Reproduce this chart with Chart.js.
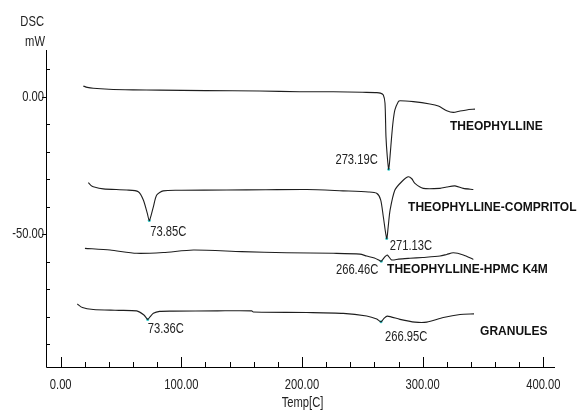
<!DOCTYPE html>
<html>
<head>
    <title>DSC</title>
    <script src="https://cdn.jsdelivr.net/npm/chart.js"></script>
    <style>
        body { margin: 0; background: #fff; }
    </style>
</head>
<body>
    <canvas id="dscChart" width="585" height="411"></canvas>

    <script>
        // dados (Temp [C] / DSC [mW])
        const theoTemp = [18.7, 22, 27, 40, 60, 82, 120, 165, 198, 226, 250, 262, 265, 267.4, 268.8, 269.6, 270.7, 271.9, 273, 274.3, 275.5, 277, 279.8, 281.3, 292.3, 306, 313, 320, 325.4, 331, 336.5, 343.4];
        const theoDsc = [3.9, 3.4, 3.05, 2.7, 2.5, 2.4, 2.2, 2.07, 1.8, 1.8, 1.6, 1.5, 1.3, 0.6, -2.4, -14.5, -21.8, -26.4, -21.5, -14.5, -9, -4.8, -1.8, -1.45, -1.8, -2.65, -3.4, -5.1, -5.7, -5.2, -4.8, -4.5];

        const compTemp = [22.9, 25, 27, 35.3, 54.7, 64.3, 68.5, 71.8, 73.4, 75, 76.8, 79.6, 85, 100, 137.6, 170, 204, 234, 255, 261.9, 265.2, 267.4, 270.2, 271.5, 273, 277, 282.6, 288, 291, 293.6, 300.5, 314.4, 320, 326.8, 333.7, 342];
        const compDsc = [-31.25, -32.2, -32.7, -33.5, -33.9, -34.5, -37.5, -42.4, -45, -43, -40, -35.7, -34.2, -34, -33.9, -33.8, -33.7, -34.2, -34.6, -35.1, -37.5, -43.6, -51.5, -47, -41.2, -33.9, -30.9, -29.1, -29.8, -31.5, -33.3, -33.3, -32.8, -32.4, -33.3, -33.7];

        const hpmcTemp = [20.1, 40.9, 63, 85, 110, 150, 187.3, 226, 248, 253.6, 260, 264.6, 265.7, 268.8, 270.7, 274.3, 280, 289.5, 300, 314.4, 320, 325.4, 333.7, 342];
        const hpmcDsc = [-55.1, -55.7, -56.9, -56.6, -55.7, -56.3, -56.7, -56.9, -57.2, -57.9, -58.6, -59.6, -59.8, -58.1, -57.5, -59.3, -59.0, -58.7, -58.4, -57.9, -57.3, -56.7, -57.5, -59.1];

        const granTemp = [13.8, 18, 27, 45, 63, 69, 72.1, 74, 76.8, 82, 93.3, 130, 158.3, 159.6, 203.9, 234.2, 253.6, 262, 265.5, 268, 270.7, 281.2, 293.6, 303.4, 317.2, 331, 342.6];
        const granDsc = [-75.3, -76.6, -77.3, -77.6, -77.8, -79.3, -80.9, -80.0, -78.7, -78.0, -77.9, -77.8, -77.8, -78.2, -78.4, -78.7, -79.7, -80.8, -81.8, -80.5, -79.7, -80.9, -81.9, -81.9, -80.2, -79.1, -78.9];

        // picos marcados
        const peakTemp = [271.9, 73.4, 270.2, 265.7, 72.1, 265.5];
        const peakDsc = [-26.4, -45, -51.5, -59.8, -80.9, -81.8];
        const peakText = ["273.19C", "73.85C", "271.13C", "266.46C", "73.36C", "266.95C"];

        // nomes das amostras
        const sampleNames = ["THEOPHYLLINE", "THEOPHYLLINE-COMPRITOL", "THEOPHYLLINE-HPMC K4M", "GRANULES"];

        // ticks dos eixos
        const xMajor = [0, 100, 200, 300, 400];
        const yMajor = [0, -50];

        // posição dos textos (deslocamento em px a partir do pico / coordenadas de dados)
        const peakOffsets = [[-11, -10, "right"], [1, 11, "left"], [3, 7, "left"], [-3, 9, "right"], [0, 9, "left"], [4, 15, "left"]];
        const nameAnchors = [[322.7, -10.9], [287.9, -40.4], [270.5, -63.0], [347.6, -85.5]];

        const toPoints = (xs, ys) => xs.map((v, i) => ({ x: v, y: ys[i] }));

        // texto estreito (tipo Arial Narrow): Liberation Sans comprimida na horizontal
        function narrowText(ctx, t, px, py, align) {
            const sx = 0.8, sy = 1.08;
            ctx.save();
            ctx.font = "14px 'Liberation Sans', Arial, sans-serif";
            ctx.textAlign = align;
            ctx.textBaseline = "middle";
            ctx.translate(px, py);
            ctx.scale(sx, sy);
            ctx.fillText(t, 0, 0);
            ctx.restore();
        }

        const dscAxes = {
            id: "dscAxes",
            afterDraw(chart) {
                const { ctx, chartArea: a, scales: { x, y } } = chart;
                ctx.save();
                ctx.strokeStyle = "#000";
                ctx.lineWidth = 1;

                // linhas dos eixos
                ctx.beginPath();
                ctx.moveTo(a.left + 0.5, a.top);
                ctx.lineTo(a.left + 0.5, a.bottom + 0.5);
                ctx.lineTo(a.right, a.bottom + 0.5);
                ctx.stroke();

                // ticks do eixo x (a cada 20)
                ctx.beginPath();
                for (let v = -20; v <= 420; v += 20) {
                    const px = Math.round(x.getPixelForValue(v)) + 0.5;
                    if (px < a.left + 2 || px > a.right) continue;
                    const len = xMajor.includes(v) ? 10 : 5;
                    ctx.moveTo(px, a.bottom);
                    ctx.lineTo(px, a.bottom - len);
                }
                // ticks do eixo y (a cada 10)
                for (let v = -90; v <= 10; v += 10) {
                    const py = Math.round(y.getPixelForValue(v)) + 0.5;
                    if (yMajor.includes(v)) {
                        ctx.moveTo(a.left, py);
                        ctx.lineTo(a.left - 4, py);
                    } else {
                        ctx.moveTo(a.left + 1, py);
                        ctx.lineTo(a.left + 4, py);
                    }
                }
                ctx.stroke();

                ctx.fillStyle = "#222";
                xMajor.forEach(v => narrowText(ctx, v.toFixed(2), x.getPixelForValue(v), a.bottom + 18, "center"));
                narrowText(ctx, "Temp[C]", (a.left + a.right) / 2 + 2, a.bottom + 36, "center");

                yMajor.forEach(v => narrowText(ctx, v.toFixed(2), a.left - 2, y.getPixelForValue(v), "right"));
                narrowText(ctx, "DSC", a.left - 2, 22, "right");
                narrowText(ctx, "mW", a.left - 1, 42, "right");

                // rótulos dos picos
                peakText.forEach((t, i) => {
                    const [dx, dy, al] = peakOffsets[i];
                    narrowText(ctx, t, x.getPixelForValue(peakTemp[i]) + dx, y.getPixelForValue(peakDsc[i]) + dy, al);
                });

                // nomes das amostras
                ctx.font = "bold 12px 'Liberation Sans', Arial, sans-serif";
                ctx.fillStyle = "#111";
                ctx.textAlign = "left";
                ctx.textBaseline = "middle";
                sampleNames.forEach((t, i) => {
                    ctx.fillText(t, x.getPixelForValue(nameAnchors[i][0]), y.getPixelForValue(nameAnchors[i][1]));
                });
                ctx.restore();
            }
        };

        const ctx = document.getElementById("dscChart").getContext("2d");

        const curveStyle = {
            borderColor: "#1e1e1e",
            borderWidth: 1.1,
            pointRadius: 0,
            showLine: true,
            tension: 0.25,
            fill: false,
        };

        new Chart(ctx, {
            type: "scatter",
            data: {
                datasets: [
                    { label: sampleNames[0], data: toPoints(theoTemp, theoDsc), ...curveStyle },
                    { label: sampleNames[1], data: toPoints(compTemp, compDsc), ...curveStyle },
                    { label: sampleNames[2], data: toPoints(hpmcTemp, hpmcDsc), ...curveStyle },
                    { label: sampleNames[3], data: toPoints(granTemp, granDsc), ...curveStyle },
                    {
                        label: "picos",
                        data: toPoints(peakTemp, peakDsc),
                        showLine: false,
                        pointRadius: 1.5,
                        pointBackgroundColor: "#33cccc",
                        pointBorderWidth: 0,
                    },
                ],
            },
            options: {
                responsive: false,
                animation: false,
                layout: { padding: { left: 46, top: 50, right: 30, bottom: 44 } },
                plugins: { legend: { display: false }, tooltip: { enabled: false } },
                scales: {
                    x: { type: "linear", min: -12.18, max: 409.7, display: false },
                    y: { type: "linear", min: -98.2, max: 16.97, display: false },
                },
            },
            plugins: [dscAxes],
        });
    </script>
</body>
</html>
